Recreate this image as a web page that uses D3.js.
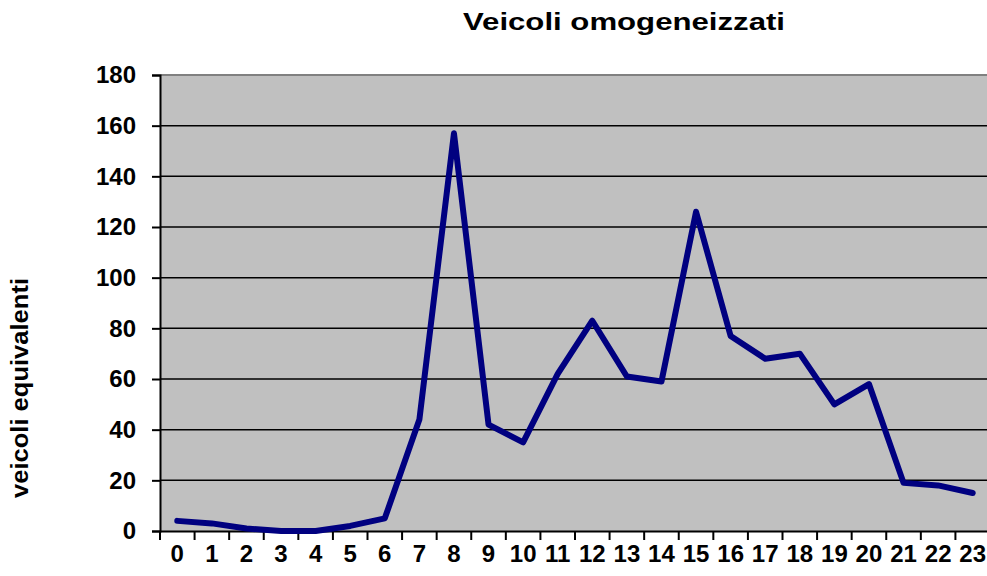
<!DOCTYPE html>
<html>
<head>
<meta charset="utf-8">
<script src="https://cdn.jsdelivr.net/npm/d3@7.9.0/dist/d3.min.js"></script>
<style>
  body { margin: 0; background: #fff; }
  svg { display: block; font-family: Arial, "Liberation Sans", sans-serif; font-weight: bold; }
</style>
</head>
<body>
<svg id="chart" width="987" height="576"></svg>
<script>
const hours = d3.range(0, 24).map(String);
const vehicles = [4, 3, 1, 0, 0, 2, 5, 44, 157, 42, 35, 62, 83, 61, 59, 126, 77, 68, 70, 50, 58, 19, 18, 15];
const yTicks = [0, 20, 40, 60, 80, 100, 120, 140, 160, 180];

const svg = d3.select('#chart');
const plotLeft = 160, plotRight = 990, plotTop = 75, plotBottom = 531;

const x = d3.scaleBand().domain(hours).range([plotLeft, plotRight]).padding(0);
const y = d3.scaleLinear().domain([0, 180]).range([plotBottom, plotTop]);

// plot background
svg.append('rect')
  .attr('x', plotLeft).attr('y', plotTop)
  .attr('width', plotRight - plotLeft).attr('height', plotBottom - plotTop)
  .attr('fill', '#c0c0c0');

// top border
svg.append('line')
  .attr('x1', plotLeft).attr('x2', plotRight)
  .attr('y1', y(180)).attr('y2', y(180))
  .attr('stroke', '#808080').attr('stroke-width', 2);

// gridlines
svg.append('g')
  .selectAll('line')
  .data(yTicks.filter((d) => d > 0 && d < 180))
  .join('line')
  .attr('x1', plotLeft).attr('x2', plotRight)
  .attr('y1', (d) => y(d)).attr('y2', (d) => y(d))
  .attr('stroke', '#000').attr('stroke-width', 1.5);

// y axis
const yAxis = svg.append('g')
  .attr('transform', `translate(${plotLeft},0)`)
  .call(d3.axisLeft(y).tickValues(yTicks).tickSize(8).tickPadding(16));
yAxis.select('.domain').attr('stroke-width', 2);
yAxis.selectAll('.tick line').attr('stroke-width', 2);
yAxis.selectAll('text')
  .attr('font-size', 24).attr('font-weight', 'bold').attr('fill', '#000')
  .attr('font-family', 'Arial, "Liberation Sans", sans-serif');

// x axis
const xAxis = svg.append('g')
  .attr('transform', `translate(0,${plotBottom})`)
  .call(d3.axisBottom(x).tickSize(0).tickPadding(14));
xAxis.select('.domain').attr('stroke-width', 2);
xAxis.selectAll('text')
  .attr('font-size', 24).attr('font-weight', 'bold').attr('fill', '#000')
  .attr('font-family', 'Arial, "Liberation Sans", sans-serif');

// x ticks at band boundaries
svg.append('g')
  .selectAll('line')
  .data(hours)
  .join('line')
  .attr('x1', (d) => x(d)).attr('x2', (d) => x(d))
  .attr('y1', plotBottom).attr('y2', plotBottom + 9)
  .attr('stroke', '#000').attr('stroke-width', 2);

// line
const line = d3.line()
  .x((d, i) => x(hours[i]) + x.bandwidth() / 2)
  .y((d) => y(d));

svg.append('path')
  .datum(vehicles)
  .attr('d', line)
  .attr('fill', 'none')
  .attr('stroke', '#000080')
  .attr('stroke-width', 6)
  .attr('stroke-linejoin', 'round')
  .attr('stroke-linecap', 'round');

// title
svg.append('text')
  .attr('x', 624).attr('y', 30)
  .attr('text-anchor', 'middle')
  .attr('font-size', 23)
  .attr('textLength', 322)
  .attr('lengthAdjust', 'spacingAndGlyphs')
  .text('Veicoli omogeneizzati');

// y label
svg.append('text')
  .attr('transform', 'translate(28,388) rotate(-90)')
  .attr('text-anchor', 'middle')
  .attr('font-size', 23)
  .attr('textLength', 220)
  .attr('lengthAdjust', 'spacingAndGlyphs')
  .text('veicoli equivalenti');
</script>
</body>
</html>
